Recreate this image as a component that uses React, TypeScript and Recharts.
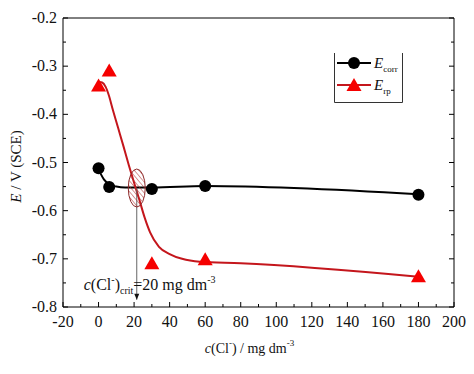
import React from 'react';
import {
  ComposedChart,
  Line,
  Scatter,
  XAxis,
  YAxis,
  Legend,
  ReferenceDot,
  ReferenceLine,
  Label,
} from 'recharts';

// measured points
const concentrations = [0, 6, 30, 60, 180];
const ecorrValues = [-0.512, -0.551, -0.555, -0.549, -0.567];
const erpValues = [-0.34, -0.309, -0.709, -0.701, -0.736];

// fitted curves
const ecorrFitX = [1, 3, 6, 10, 15, 30, 60, 180];
const ecorrFitY = [-0.522, -0.535, -0.545, -0.55, -0.552, -0.552, -0.549, -0.566];
const erpFitX = [0.5, 2, 4, 6, 8, 11, 14, 17, 20, 23, 26, 29, 34, 40, 47, 57, 80, 180];
const erpFitY = [
  -0.333, -0.334, -0.343, -0.363, -0.39, -0.428, -0.466, -0.505, -0.542, -0.578,
  -0.615, -0.645, -0.675, -0.69, -0.7, -0.706, -0.709, -0.737,
];

// critical chloride marker
const critX = 21.5;
const critY = -0.553;
const arrowTipY = -0.785;

const xTicks = [-20, -10, 0, 10, 20, 30, 40, 50, 60, 70, 80, 90, 100, 110, 120, 130, 140, 150, 160, 170, 180, 190, 200];
const yTicks = [-0.8, -0.75, -0.7, -0.65, -0.6, -0.55, -0.5, -0.45, -0.4, -0.35, -0.3, -0.25, -0.2];

const ecorrPoints = concentrations.map((x, i) => ({ x, y: ecorrValues[i] }));
const erpPoints = concentrations.map((x, i) => ({ x, y: erpValues[i] }));
const ecorrFit = ecorrFitX.map((x, i) => ({ x, y: ecorrFitY[i] }));
const erpFit = erpFitX.map((x, i) => ({ x, y: erpFitY[i] }));

const FONT = 'Liberation Serif, DejaVu Serif, serif';
const RED_LINE = '#c4161c';
const RED_MARK = '#f50000';

const txt = (size: number) => ({ fontFamily: FONT, fontSize: size });

const isMajorX = (v: number) => v % 20 === 0;
const isMajorY = (v: number) => Math.round(v * 100) % 10 === 0;

const BottomTick = (p: any) => {
  const v = p.payload.value;
  const major = isMajorX(v);
  return (
    <g>
      <line x1={p.x} x2={p.x} y1={p.y} y2={p.y - (major ? 5 : 3)} stroke="#000" />
      {major && (
        <text x={p.x} y={p.y + 20} textAnchor="middle" fontFamily={FONT} style={txt(16)} fill="#111">
          {v}
        </text>
      )}
    </g>
  );
};

const TopTick = (p: any) => {
  const major = isMajorX(p.payload.value);
  return <line x1={p.x} x2={p.x} y1={p.y} y2={p.y + (major ? 5 : 3)} stroke="#000" />;
};

const LeftTick = (p: any) => {
  const v = p.payload.value;
  const major = isMajorY(v);
  return (
    <g>
      <line x1={p.x} x2={p.x + (major ? 5 : 3)} y1={p.y} y2={p.y} stroke="#000" />
      {major && (
        <text x={p.x - 6} y={p.y + 5} textAnchor="end" fontFamily={FONT} style={txt(16)} fill="#111">
          {v.toFixed(1)}
        </text>
      )}
    </g>
  );
};

const RightTick = (p: any) => {
  const major = isMajorY(p.payload.value);
  return <line x1={p.x} x2={p.x - (major ? 5 : 3)} y1={p.y} y2={p.y} stroke="#000" />;
};

const Dot = (p: any) => <circle cx={p.cx} cy={p.cy} r={6} fill="#000" />;

const Tri = (p: any) => (
  <polygon
    points={`${p.cx - 7.5},${p.cy + 6} ${p.cx + 7.5},${p.cy + 6} ${p.cx},${p.cy - 7}`}
    fill={RED_MARK}
  />
);

const HatchedEllipse = (p: any) => (
  <g>
    <defs>
      <pattern id="hatch" width="3.5" height="3.5" patternUnits="userSpaceOnUse" patternTransform="rotate(-40)">
        <line x1="0" y1="0" x2="0" y2="3.5" stroke="#b0302f" strokeWidth="1" />
      </pattern>
    </defs>
    <ellipse cx={p.cx} cy={p.cy} rx={8.5} ry={19} fill="url(#hatch)" stroke="#8e2a2a" strokeWidth={1} />
  </g>
);

const ArrowAnnotation = (p: any) => (
  <g>
    <polygon points={`${p.cx - 2.5},${p.cy - 6} ${p.cx + 2.5},${p.cy - 6} ${p.cx},${p.cy}`} fill="#111" />
    <text x={p.cx - 53} y={p.cy - 10} fontFamily={FONT} style={txt(16)} fill="#111">
      <tspan fontStyle="italic">c</tspan>
      <tspan>(Cl</tspan>
      <tspan fontSize={10} dy={-7}>-</tspan>
      <tspan dy={7}>)</tspan>
      <tspan fontSize={10} dy={4}>crit</tspan>
      <tspan dy={-4}>=20 mg dm</tspan>
      <tspan fontSize={10} dy={-7}>-3</tspan>
    </text>
  </g>
);

const LegendBox = () => (
  <svg width={69} height={50} style={{ display: 'block' }}>
    <line x1={0.5} y1={0} x2={0.5} y2={49.5} stroke="#333" />
    <line x1={68.5} y1={0} x2={68.5} y2={49.5} stroke="#333" />
    <line x1={0.5} y1={49.5} x2={68.5} y2={49.5} stroke="#333" />
    <line x1={3} x2={37} y1={10} y2={10} stroke="#000" strokeWidth={2} />
    <circle cx={20} cy={10} r={6} fill="#000" />
    <text x={40} y={15} fontFamily={FONT} style={txt(15)} fill="#111">
      <tspan fontStyle="italic">E</tspan>
      <tspan fontSize={9} dy={4}>corr</tspan>
    </text>
    <line x1={3} x2={37} y1={32} y2={32} stroke={RED_LINE} strokeWidth={2} />
    <polygon points="12.5,38 27.5,38 20,25" fill={RED_MARK} />
    <text x={40} y={37} fontFamily={FONT} style={txt(15)} fill="#111">
      <tspan fontStyle="italic">E</tspan>
      <tspan fontSize={9} dy={4}>rp</tspan>
    </text>
  </svg>
);

const YTitle = (p: any) => {
  const vb = p.viewBox;
  const cx = vb.x + 21;
  const cy = vb.y + vb.height / 2 + 4;
  return (
    <text x={cx} y={cy} transform={`rotate(-90, ${cx}, ${cy})`} textAnchor="middle" fontFamily={FONT} style={txt(15)} fill="#111">
      <tspan fontStyle="italic">E</tspan>
      <tspan> / V (SCE)</tspan>
    </text>
  );
};

const XTitle = (p: any) => {
  const vb = p.viewBox;
  const cx = vb.x + vb.width / 2 - 9;
  return (
    <text x={cx} y={vb.y + 46} textAnchor="middle" fontFamily={FONT} style={txt(14)} fill="#111">
      <tspan fontStyle="italic">c</tspan>
      <tspan>(Cl</tspan>
      <tspan fontSize={9} dy={-7}>-</tspan>
      <tspan dy={7}>) / mg dm</tspan>
      <tspan fontSize={9} dy={-7}>-3</tspan>
    </text>
  );
};

export default function App() {
  return (
    <div style={{ position: 'absolute', left: 0, top: 0, width: 474, height: 374, background: '#fff', fontFamily: FONT }}>
      <ComposedChart width={474} height={374} margin={{ top: 17, right: 19, bottom: 0, left: 0 }} style={{ fontFamily: FONT }}>
        <XAxis
          dataKey="x"
          type="number"
          domain={[-20, 200]}
          ticks={xTicks}
          interval={0}
          allowDataOverflow
          height={67}
          tickSize={0}
          tickMargin={0}
          tickLine={false}
          tick={<BottomTick />}
          stroke="#000"
          label={<Label content={<XTitle />} />}
        />
        <XAxis
          xAxisId="top"
          orientation="top"
          type="number"
          domain={[-20, 200]}
          ticks={xTicks}
          interval={0}
          allowDataOverflow
          height={1}
          tickSize={0}
          tickMargin={0}
          tickLine={false}
          tick={<TopTick />}
          stroke="#000"
        />
        <YAxis
          type="number"
          domain={[-0.8, -0.2]}
          ticks={yTicks}
          interval={0}
          allowDataOverflow
          width={63}
          tickSize={0}
          tickMargin={0}
          tickLine={false}
          tick={<LeftTick />}
          stroke="#000"
          label={<Label content={<YTitle />} />}
        />
        <YAxis
          yAxisId="right"
          orientation="right"
          type="number"
          domain={[-0.8, -0.2]}
          ticks={yTicks}
          interval={0}
          allowDataOverflow
          width={1}
          tickSize={0}
          tickMargin={0}
          tickLine={false}
          tick={<RightTick />}
          stroke="#000"
        />
        <Line data={ecorrFit} dataKey="y" type="monotone" stroke="#000" strokeWidth={2} dot={false} isAnimationActive={false} legendType="none" />
        <Line data={erpFit} dataKey="y" type="monotone" stroke={RED_LINE} strokeWidth={2} dot={false} isAnimationActive={false} legendType="none" />
        <ReferenceLine
          segment={[{ x: critX, y: critY }, { x: critX, y: arrowTipY }]}
          stroke="#666"
          strokeWidth={1}
        />
        <ReferenceDot x={critX} y={critY} shape={<HatchedEllipse />} />
        <ReferenceDot x={critX} y={arrowTipY} shape={<ArrowAnnotation />} />
        <Scatter name="Ecorr" data={ecorrPoints} dataKey="y" shape={<Dot />} isAnimationActive={false} />
        <Scatter name="Erp" data={erpPoints} dataKey="y" shape={<Tri />} isAnimationActive={false} />
        <Legend
          layout="vertical"
          align="center"
          verticalAlign="middle"
          content={<LegendBox />}
          wrapperStyle={{ position: 'absolute', left: 334, top: 53, width: 69, height: 50 }}
        />
      </ComposedChart>
    </div>
  );
}
